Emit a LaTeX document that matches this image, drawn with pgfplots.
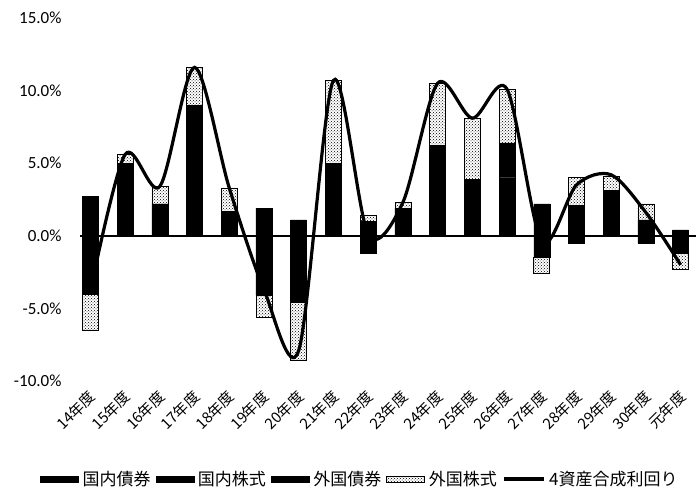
\documentclass[border=0pt]{standalone}
\usepackage{fontspec}
\setmainfont{Carlito}
\newfontfamily\jp{Noto Sans CJK JP}
\usepackage{pgfplots}
\pgfplotsset{compat=1.18}
\usepackage{pgfplotstable}
\usetikzlibrary{patterns}

\pgfplotstableread{
x  kb   ks   fb   fs   total
0  1.0 -4.0  1.7 -2.5 -3.8
1  0.5  3.8  0.7  0.6  5.6
2  0.6  1.0  0.6  1.2  3.4
3  0.2  7.0  1.8  2.6  11.6
4  0.5  0.6  0.6  1.6  3.3
5  0.7 -4.1  1.2 -1.5 -3.7
6  1.1 -3.6 -1.0 -4.0 -7.9
7  0.8  3.0  1.2  5.7  10.7
8  1.0 -0.8 -0.4  0.4  0.1
9  0.6  0.2  1.1  0.4  2.3
10 0.8  3.0  2.4  4.3  10.5
11 0.2  2.5  1.2  4.2  8.1
12 0.6  3.4  2.4  3.7  10.1
13 1.0 -1.5  1.2 -1.1 -0.4
14 -0.5 1.5  0.6  1.9  3.5
15 0.3  1.8  1.0  1.0  4.2
16 0.4 -0.5  0.7  1.1  1.6
17 0.4 -0.9 -0.3 -1.1 -2.0
}\data

\pgfplotsset{
  base/.style={
    at={(73pt,108pt)}, anchor=south west,
    scale only axis, width=625pt, height=363pt,
    xmin=-0.5, xmax=17.5, ymin=-10, ymax=15,
    axis line style={draw=none},
    major tick length=0pt,
  },
  hidden/.style={base, ticks=none},
  blk/.style={fill=black, draw=black},
  stip/.style={fill=gray!50, pattern=crosshatch dots, pattern color=black, draw=black, line width=0.6pt},
  barleg/.style={legend image code/.code={\draw[##1] (0pt,-3pt) rectangle (38pt,3pt);}},
  lineleg/.style={legend image code/.code={\draw[##1] (0pt,0pt) -- (40pt,0pt);}},
}

\begin{document}
\begin{tikzpicture}
\useasboundingbox (0,0) rectangle (696pt,489pt);

% positive parts
\begin{axis}[base, ybar stacked, bar width=16pt,
  xtick={0,...,17},
  xticklabels={14年度,15年度,16年度,17年度,18年度,19年度,20年度,21年度,22年度,23年度,24年度,25年度,26年度,27年度,28年度,29年度,30年度,元年度},
  xticklabel style={font=\jp\fontsize{15}{15}\selectfont, yshift=-12pt, xshift=3pt, rotate=45, anchor=east, inner sep=1pt},
  ytick={-10,-5,0,5,10,15},
  yticklabel={\pgfmathprintnumber[fixed,fixed zerofill,precision=1]{\tick}\%},
  yticklabel style={font=\fontsize{17}{17}\selectfont, anchor=east, xshift=-8pt},
  /pgf/number format/assume math mode=true,
]
\addplot[blk] table[x=x, y expr={max(\thisrow{kb},0)}] {\data};
\addplot[blk] table[x=x, y expr={max(\thisrow{ks},0)}] {\data};
\addplot[blk] table[x=x, y expr={max(\thisrow{fb},0)}] {\data};
\addplot[stip] table[x=x, y expr={max(\thisrow{fs},0)}] {\data};
\end{axis}

% negative parts
\begin{axis}[hidden, ybar stacked, bar width=16pt]
\addplot[blk] table[x=x, y expr={min(\thisrow{kb},0)}] {\data};
\addplot[blk] table[x=x, y expr={min(\thisrow{ks},0)}] {\data};
\addplot[blk] table[x=x, y expr={min(\thisrow{fb},0)}] {\data};
\addplot[stip] table[x=x, y expr={min(\thisrow{fs},0)}] {\data};
\end{axis}

% zero line, total line and legend
\begin{axis}[hidden, clip=false,
  legend columns=-1,
  legend style={draw=none, fill=none, at={(axis description cs:0.459,-0.27)}, anchor=center,
    font=\jp\fontsize{17}{17}\selectfont,
    /tikz/every even column/.append style={column sep=3pt},
    /tikz/every odd column/.append style={column sep=2pt}},
]
\draw[black, line width=2.4pt] (axis cs:-0.3,0) -- (axis cs:17.5,0);
\addlegendimage{blk, barleg}
\addlegendentry{国内債券}
\addlegendimage{blk, barleg}
\addlegendentry{国内株式}
\addlegendimage{blk, barleg}
\addlegendentry{外国債券}
\addlegendimage{stip, barleg}
\addlegendentry{外国株式}
\addplot[black, line width=3.2pt, smooth, lineleg]
  table[x=x, y=total] {\data};
\addlegendentry{4資産合成利回り}
\end{axis}
\end{tikzpicture}
\end{document}
